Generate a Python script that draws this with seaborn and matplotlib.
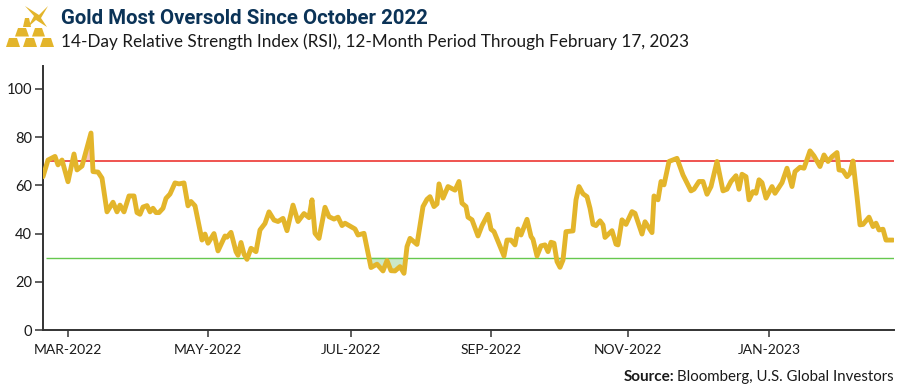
import matplotlib
matplotlib.use('Agg')
import matplotlib.pyplot as plt
from matplotlib.patches import Polygon
import numpy as np
import seaborn as sns

sns.set_style("white")
plt.rcParams['font.family'] = ['Lato', 'DejaVu Sans']

# position along the trading-day axis
session_pos = [43, 48, 55, 58, 62, 68, 74, 77, 82, 91, 93, 98, 102, 107, 113, 117, 120, 124, 129, 134,
               137, 140, 143, 147, 150, 153, 156, 159, 163, 166, 170, 175, 179, 184, 188, 191, 195, 202, 205, 208,
               214, 218, 225, 227, 231, 236, 238, 241, 244, 247, 251, 256, 260, 265, 269, 274, 278, 283, 287, 293,
               298, 304, 309, 312, 315, 319, 325, 329, 334, 338, 342, 345, 355, 358, 364, 371, 377, 383, 387, 391,
               395, 400, 404, 407, 410, 417, 423, 427, 430, 434, 437, 439, 443, 448, 455, 459, 462, 466, 468, 472,
               478, 482, 488, 491, 494, 504, 507, 511, 515, 518, 521, 527, 531, 533, 537, 541, 545, 548, 551, 554,
               557, 560, 563, 566, 573, 576, 579, 583, 587, 590, 593, 596, 600, 603, 605, 612, 616, 618, 622, 626,
               632, 635, 642, 645, 652, 654, 658, 661, 664, 669, 677, 683, 691, 694, 699, 703, 707, 711, 717, 723,
               727, 731, 736, 739, 742, 746, 749, 753, 756, 759, 762, 766, 772, 775, 782, 787, 792, 795, 800, 804,
               810, 814, 820, 824, 828, 832, 837, 839, 843, 847, 850, 853, 857, 860, 863, 869, 873, 876, 879, 883,
               886, 893]
rsi = [63.6, 70.5, 72, 68.5, 70.5, 61.5, 73, 66.4, 68, 81.7, 65.7, 65.5, 63, 49, 53, 49, 51.8, 49, 55.6, 55.6,
       48.7, 48, 51, 51.6, 49, 50.5, 48.7, 48.7, 50.5, 54.6, 56.4, 61, 60.6, 61, 51.5, 53.3, 51.5, 37.3, 39.8, 36,
       40, 32.8, 39, 38.5, 40.5, 32.5, 31, 36.3, 31.5, 29.3, 33.9, 32.5, 41.5, 44.2, 49, 45.6, 45, 46.3, 41.2, 51.8,
       45, 48.3, 46.6, 54, 40.1, 38, 50.9, 47, 46, 46.8, 43.3, 44.3, 41.9, 39.4, 40.1, 25.9, 27.3, 24.5, 28.8, 24.6,
       24.5, 26.3, 23.5, 34.6, 38, 35.5, 51.2, 54.2, 55.3, 51.2, 52.3, 60.6, 54.7, 59.5, 58, 61.6, 52.6, 51.2, 46.8, 45.7,
       39, 43.3, 48, 41.8, 40.8, 30.7, 37.3, 37.3, 35.3, 41.9, 39.4, 45.9, 38.8, 37.6, 30.7, 34.9, 35.3, 32.5, 36.4, 36,
       28.4, 26, 29, 40.8, 41.1, 54, 59.5, 56.5, 55.3, 50.5, 43.8, 43.3, 45.3, 43.6, 38.4, 41.2, 35.6, 35.3, 45.7, 43.8,
       49.1, 48.4, 39.8, 44.9, 40.4, 55.6, 54, 61.6, 60.2, 69.9, 71.2, 64.3, 57.7, 58.4, 61.6, 61.6, 56.3, 59.5, 69.9, 57.7,
       58.4, 61.6, 64, 58.4, 64.6, 63.6, 54, 57.4, 56.7, 62.3, 61.1, 54.7, 59.5, 56.7, 61.1, 67.1, 59.5, 65.7, 67.5, 67.1,
       74.3, 72.2, 67.8, 72.6, 69.9, 71.9, 73.6, 66.4, 66.1, 63.6, 65, 70.1, 55.3, 43.6, 43.8, 46.8, 42.9, 44.3, 41.5, 41.8,
       37.3, 37.3]

tick_pos = [68, 208, 351, 491, 628, 769]
tick_labels = ['MAR-2022', 'MAY-2022', 'JUL-2022', 'SEP-2022', 'NOV-2022', 'JAN-2023']
y_ticks = [0, 20, 40, 60, 80, 100]
overbought = 70
oversold = 30

W, H = 900, 387
fig = plt.figure(figsize=(9, 3.87), dpi=100)
ax = fig.add_axes([43 / W, 1 - 330 / H, (894 - 43) / W, (330 - 66) / H])

x = np.array(session_pos, dtype=float)
y = np.array(rsi)

ax.fill_between(x, y, overbought, where=y >= overbought, interpolate=True, color='#F6B7B0', alpha=0.8, lw=0)
ax.fill_between(x, y, oversold, where=y <= oversold, interpolate=True, color='#BFE3BC', alpha=0.8, lw=0)
ax.hlines([overbought], 46, 894, color='#EF5350', lw=1.4, zorder=2)
ax.hlines([oversold], 46, 894, color='#66C84F', lw=1.0, zorder=2)
sns.lineplot(x=x, y=y, ax=ax, color='#E3B52B', lw=3.5, estimator=None, sort=False, zorder=3,
             solid_joinstyle='round', solid_capstyle='round')

ax.set_xlim(43, 894)
ax.set_ylim(0, 109.5)
ax.set_xticks(tick_pos)
ax.set_xticklabels(tick_labels)
ax.set_yticks(y_ticks)
ax.tick_params(axis='y', left=True, length=6, width=1.1, color='#333333', labelsize=10.5, labelcolor='#1a1a1a', pad=2)
ax.tick_params(axis='x', bottom=True, length=5, width=1.1, color='#333333', labelsize=10, labelcolor='#1a1a1a', pad=5)
ax.spines['top'].set_visible(False)
ax.spines['right'].set_visible(False)
for s in ['left', 'bottom']:
    ax.spines[s].set_color('#333333')
    ax.spines[s].set_linewidth(1.4)

fig.text(61 / W, 1 - 24 / H, 'Gold Most Oversold Since October 2022', family='Roboto', weight='bold',
         fontsize=14.7, color='#0B3357')
fig.text(61 / W, 1 - 47 / H, '14-Day Relative Strength Index (RSI), 12-Month Period Through February 17, 2023',
         fontsize=12.3, color='#1a1a1a')
fig.text(894 / W, 1 - 381 / H, 'Bloomberg, U.S. Global Investors', ha='right', fontsize=10.85, color='#1a1a1a')
fig.text(674.5 / W, 1 - 381 / H, 'Source:', ha='right', weight='bold', fontsize=11, color='#1a1a1a')

# logo: gold bars and a spark
gold = '#E3B52B'
def bar(x0, x1, top, bot, inset=3):
    pts = [(x0, bot), (x0 + inset, top), (x1 - inset, top), (x1, bot)]
    fig.patches.append(Polygon([(a / W, 1 - b / H) for a, b in pts], closed=True, color=gold,
                               transform=fig.transFigure, figure=fig, lw=0))

for x0, x1 in [(6, 20), (23, 37), (40, 54)]:
    bar(x0, x1, 38, 47)
for x0, x1 in [(15, 29), (32, 45)]:
    bar(x0, x1, 28, 36.5)
bar(23, 31, 18, 27, inset=2)
fig.patches.append(Polygon([(a / W, 1 - b / H) for a, b in [(25, 6), (39, 15), (48, 6), (41, 18), (47, 27), (36, 20), (28, 27), (34, 16)]],
                           closed=True, color=gold, transform=fig.transFigure, figure=fig, lw=0))

fig.savefig('out.png', dpi=100)
